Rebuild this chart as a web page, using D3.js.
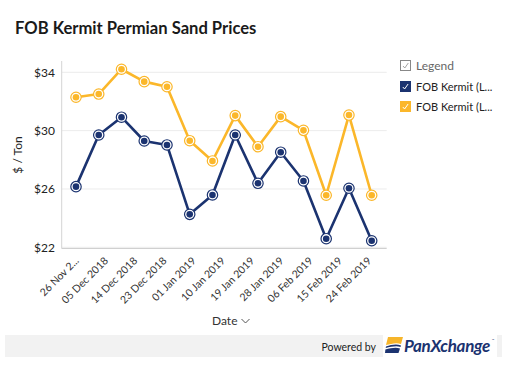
<!DOCTYPE html>
<html><head><meta charset="utf-8">
<script src="https://cdn.jsdelivr.net/npm/d3@7"></script>
<style>
body{margin:0;background:#fff;}
svg{display:block;font-family:Lato,"Open Sans",sans-serif;}
</style></head>
<body><svg id="c" width="512" height="366"></svg>
<script>
const dates = ["2018-11-26","2018-12-03","2018-12-10","2018-12-17","2018-12-24","2018-12-31","2019-01-07","2019-01-14","2019-01-21","2019-01-28","2019-02-04","2019-02-11","2019-02-18","2019-02-25"];
const blueValues = [26.16,29.70,30.92,29.29,29.02,24.26,25.59,29.70,26.39,28.52,26.55,22.59,26.05,22.45];
const yellowValues = [32.29,32.51,34.21,33.36,33.01,29.31,27.92,31.03,28.90,30.96,30.02,25.57,31.07,25.57];
const yTicks = [22,26,30,34];
const tickDates = ["2018-11-26","2018-12-05","2018-12-14","2018-12-23","2019-01-01","2019-01-10","2019-01-19","2019-01-28","2019-02-06","2019-02-15","2019-02-24"];
const tickLabels = ["26 Nov 2...","05 Dec 2018","14 Dec 2018","23 Dec 2018","01 Jan 2019","10 Jan 2019","19 Jan 2019","28 Jan 2019","06 Feb 2019","15 Feb 2019","24 Feb 2019"];
const seriesNames = ["FOB Kermit (L...","FOB Kermit (L..."];
const colors = ["#1b3370","#fbb72a"];

const parse = d3.utcParse("%Y-%m-%d");
const svg = d3.select("#c");

const x = d3.scaleUtc().domain([parse(dates[0]), parse(dates[dates.length-1])]).range([76, 371.7]);
const y = d3.scaleLinear().domain([22,34]).range([247.3, 72.3]);

// title
svg.append("text").attr("x",15).attr("y",33.5).attr("font-size",16.6).attr("font-weight",700)
  .attr("fill","#1a1a1a").text("FOB Kermit Permian Sand Prices");

// gridlines
svg.append("g").selectAll("line").data(yTicks).join("line")
  .attr("x1",62).attr("x2",386.7).attr("y1",d=>y(d)).attr("y2",d=>y(d))
  .attr("stroke","#ececec").attr("stroke-width",1);

// y axis
const yAxis = svg.append("g").attr("transform","translate(62,0)")
  .call(d3.axisLeft(y).tickValues(yTicks).tickFormat(d=>"$"+d).tickSize(0).tickPadding(7));
yAxis.select(".domain").remove();
yAxis.selectAll("text").attr("font-size",12).attr("fill","#222").attr("font-family","Lato,sans-serif");
svg.append("line").attr("x1",61.7).attr("x2",61.7).attr("y1",61).attr("y2",248.5).attr("stroke","#d4d4d4");

// x axis
const xAxis = svg.append("g").attr("transform","translate(0,248.5)")
  .call(d3.axisBottom(x).tickValues(tickDates.map(parse)).tickFormat((d,i)=>tickLabels[i]).tickSize(0).tickPadding(0));
xAxis.select(".domain").attr("d","M61.7,0H386.7").attr("stroke","#d0d0d0");
xAxis.selectAll("text").attr("font-size",10.5).attr("fill","#333").attr("font-family","Lato,sans-serif")
  .attr("text-anchor","end").attr("dy",0).attr("transform","translate(3,13) rotate(-45)");

// axis titles
svg.append("text").attr("transform","translate(22,155) rotate(-90)").attr("text-anchor","middle")
  .attr("font-size",12).attr("fill","#222").text("$ / Ton");
svg.append("text").attr("x",212).attr("y",325).attr("font-size",12).attr("fill","#333").text("Date");
svg.append("path").attr("d","M241.5,319 l4,4 l4,-4").attr("fill","none").attr("stroke","#555").attr("stroke-width",1);

// lines
const series = [blueValues, yellowValues];
const line = d3.line().x((d,i)=>x(parse(dates[i]))).y(d=>y(d));
series.slice().reverse().forEach((vals,ri)=>{
  const si = series.length-1-ri;
  const g = svg.append("g");
  g.append("path").datum(vals).attr("d",line).attr("fill","none").attr("stroke",colors[si]).attr("stroke-width",2.6).attr("stroke-linejoin","round");
  g.selectAll("circle.o").data(vals).join("circle").attr("class","o")
    .attr("cx",(d,i)=>x(parse(dates[i]))).attr("cy",d=>y(d)).attr("r",5.2)
    .attr("fill","#fff").attr("stroke",colors[si]).attr("stroke-width",1.2);
  g.selectAll("circle.i").data(vals).join("circle").attr("class","i")
    .attr("cx",(d,i)=>x(parse(dates[i]))).attr("cy",d=>y(d)).attr("r",3.3)
    .attr("fill",colors[si]);
});

// legend
const lg = svg.append("g");
lg.append("rect").attr("x",400.5).attr("y",60.5).attr("width",10).attr("height",10).attr("fill","#fff").attr("stroke","#888");
lg.append("path").attr("d","M403,66 l1.8,2 l3.5,-5").attr("fill","none").attr("stroke","#999").attr("stroke-width",0.9);
lg.append("text").attr("x",416).attr("y",70).attr("font-size",12).attr("fill","#666").text("Legend");
seriesNames.forEach((n,i)=>{
  const yy = 81 + i*20;
  lg.append("rect").attr("x",400).attr("y",yy).attr("width",11).attr("height",11).attr("fill",colors[i]);
  lg.append("path").attr("d",`M402.8,${yy+6} l1.8,2 l3.5,-5`).attr("fill","none").attr("stroke","#fff").attr("stroke-width",1);
  lg.append("text").attr("x",416).attr("y",yy+10).attr("font-size",11).attr("fill","#222").text(n);
});

// footer
svg.append("rect").attr("x",5).attr("y",335).attr("width",497).attr("height",22).attr("fill","#f2f2f2");
svg.append("rect").attr("x",383).attr("y",335).attr("width",114).attr("height",22).attr("fill","#fff");
svg.append("text").attr("x",376).attr("y",350.5).attr("text-anchor","end").attr("font-size",10.5).attr("fill","#222").text("Powered by");
// logo icon
const lo = svg.append("g").attr("transform","translate(385,337)");
lo.append("path").attr("d","M3,0 H18 L16,7 C11,5 6,7 1,8 Z").attr("fill","#f6b52a");
lo.append("path").attr("d","M1,9.5 C6,8 11,6.5 16,8.5 L15.5,10 C11,8.5 6,10 0.7,11 Z").attr("fill","#1b3370");
lo.append("path").attr("d","M0.4,12.5 C6,11 11,10 15,11.5 L13.5,16 H0 Z").attr("fill","#1b3370");
svg.append("text").attr("x",404).attr("y",352).attr("font-size",17).attr("font-weight",700).attr("font-style","italic")
  .attr("fill","#1b3370").attr("letter-spacing",-0.3).text("PanXchange");
svg.append("text").attr("x",492).attr("y",341).attr("font-size",3).attr("fill","#1b3370").text("™");
</script></body></html>
